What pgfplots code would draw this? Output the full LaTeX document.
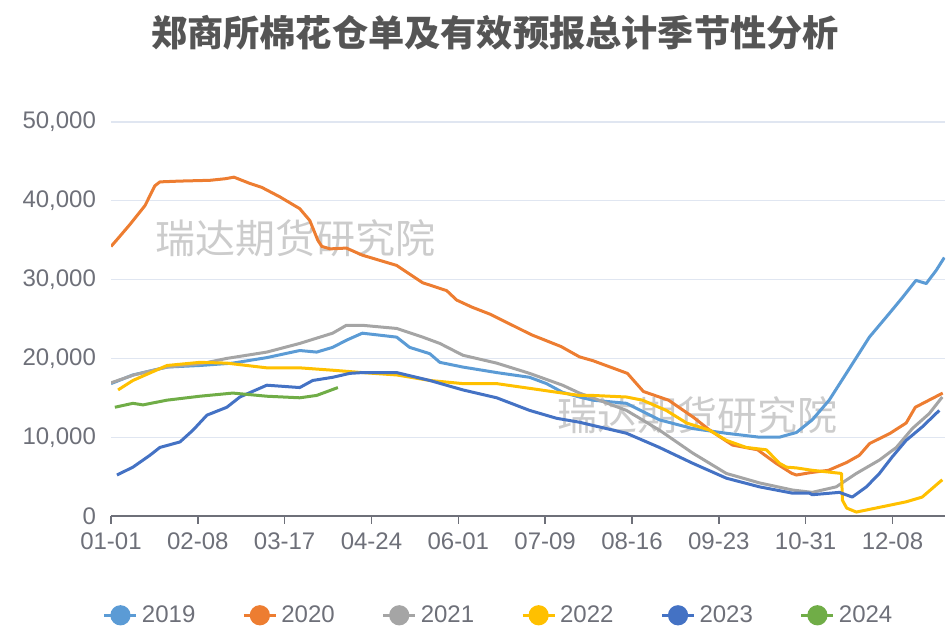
\documentclass[border=0pt]{standalone}
\usepackage{fontspec}
\setmainfont{Liberation Sans}
\newfontfamily\cjk{Noto Sans CJK SC}
\usepackage{pgfplots}
\pgfplotsset{compat=1.18}
\definecolor{c19}{HTML}{5B9BD5}
\definecolor{c20}{HTML}{ED7D31}
\definecolor{c21}{HTML}{A5A5A5}
\definecolor{c22}{HTML}{FFC000}
\definecolor{c23}{HTML}{4472C4}
\definecolor{c24}{HTML}{70AD47}
\definecolor{labgray}{HTML}{6E7079}
\definecolor{axgray}{HTML}{6E7079}
\definecolor{gridc}{HTML}{E0E6F1}
\definecolor{titleg}{HTML}{555555}
\definecolor{wm}{HTML}{CCCCCC}
\begin{document}
\begin{tikzpicture}
\path[use as bounding box] (0,0) rectangle (473.5pt,313pt);
\node[font=\cjk\bfseries\fontsize{18.1pt}{21pt}\selectfont, text=titleg] at (247.5pt,296.5pt) {郑商所棉花仓单及有效预报总计季节性分析};
\node[font=\cjk\fontsize{20pt}{24pt}\selectfont, text=wm] at (147.5pt,194pt) {瑞达期货研究院};
\node[font=\cjk\fontsize{20pt}{24pt}\selectfont, text=wm] at (348.5pt,105.5pt) {瑞达期货研究院};
\begin{axis}[
  at={(55.5pt,55pt)}, anchor=south west,
  scale only axis, width=417pt, height=197pt,
  xmin=0, xmax=365, ymin=0, ymax=50000,
  axis lines*=left,
  y axis line style={draw=none},
  x axis line style={draw=axgray, line width=0.8pt},
  xtick={0,38,76,114,152,190,228,266,304,342},
  xticklabels={01-01,02-08,03-17,04-24,06-01,07-09,08-16,09-23,10-31,12-08},
  ytick={0,10000,20000,30000,40000,50000},
  scaled y ticks=false,
  /pgf/number format/assume math mode=true,
  yticklabel style={/pgf/number format/1000 sep={,}},
  tick align=outside,
  major tick length=4pt,
  xtick style={draw=axgray, line width=0.8pt},
  ytick style={draw=none},
  ymajorgrids, grid style={draw=gridc, line width=0.6pt},
  tick label style={font=\fontsize{12pt}{14pt}\selectfont, text=labgray},
  xticklabel style={yshift=-1pt},
  legend columns=6,
  legend style={at={(rel axis cs:0.466,-0.252)}, anchor=center, draw=none, fill=none,
    font=\fontsize{12pt}{14pt}\selectfont, text=labgray,
    /tikz/every even column/.append style={column sep=21.5pt}},
  legend image code/.code={\draw[#1] (0pt,0pt) -- (16pt,0pt); \fill[#1] (8pt,0pt) circle (4.3pt);},
  every axis plot/.append style={line width=1.5pt, line join=round},
]
\addplot[c19] coordinates {
(0,16800) (9.6,17900) (24.5,18900) (38.9,19100) (53.3,19400) (68.2,20100) (82.6,21000) (90,20800) (97,21400) (103,22300) (110,23200) (125,22700) (130.7,21400) (139.5,20600) (143.9,19500) (154,18900) (168.8,18200) (183.2,17600) (190.6,16800) (197.6,15700) (205,15100) (210.8,14700) (225.6,14300) (240,12200) (254.5,11100) (269.3,10500) (283.8,10000) (292.5,10000) (300,10600) (306.9,12200) (314.3,14700) (321.8,18100) (326.2,20100) (331.9,22700) (340.6,25700) (346.3,27700) (352.3,29900) (356.8,29500) (361.2,31200) (364.7,32800)};
\addlegendentry{2019}
\addplot[c20] coordinates {
(0,34200) (3,35200) (8.3,37000) (14.9,39400) (19.2,41900) (21.4,42400) (30,42500) (43.3,42600) (50,42800) (53.8,43000) (60.8,42200) (66,41700) (73.9,40500) (82.6,39000) (87,37500) (90.5,35000) (92.3,34200) (96,33900) (103,34000) (110,33100) (125,31800) (136.4,29600) (146.9,28600) (151.3,27400) (158,26500) (166,25600) (175,24300) (184,23000) (197,21500) (205,20200) (211,19700) (226,18100) (233,15800) (244,14700) (255,12500) (262,10900) (272,9000) (283,8400) (291,6700) (298,5400) (300,5200) (306,5500) (314,5800) (322,6800) (327.5,7700) (332,9200) (341,10500) (348,11800) (352,13800) (358,14700) (364,15600)};
\addlegendentry{2020}
\addplot[c21] coordinates {
(0,16900) (10,17900) (24.5,18900) (39,19300) (50.7,20000) (68.2,20800) (82.6,21900) (97,23200) (103,24200) (110,24200) (125,23800) (136.4,22700) (143.9,21900) (154,20400) (168.8,19400) (183.2,18100) (197.6,16600) (205,15600) (210.8,15000) (225.6,13400) (240,10900) (254.5,8000) (269.3,5400) (283.8,4200) (298.2,3300) (306.9,3000) (317.4,3700) (326.2,5400) (336.3,7100) (343.7,8700) (350.7,11100) (358.1,13000) (363.8,15100)};
\addlegendentry{2021}
\addplot[c22] coordinates {
(3.1,16000) (9.6,17200) (24.5,19100) (38.9,19500) (50.7,19400) (68.2,18800) (82.6,18800) (97,18500) (110,18200) (125,17900) (139.5,17200) (154,16800) (168.8,16800) (183.2,16200) (197.6,15600) (205,15300) (210.8,15300) (225.6,15100) (232.6,14700) (243,13400) (251.9,11800) (261.9,10900) (269.3,9600) (278,8700) (286.8,8400) (292.5,6700) (295.6,6200) (300,6100) (306.9,5800) (319.7,5400) (320.1,2000) (322,1000) (326.2,500) (336.3,1100) (348,1800) (355,2400) (363.8,4600)};
\addlegendentry{2022}
\addplot[c23] coordinates {
(2.6,5200) (9.6,6200) (17,7700) (21.4,8700) (30.2,9400) (35.9,10900) (42,12800) (50.7,13800) (56.4,15100) (68.2,16600) (82.6,16300) (88.3,17200) (97,17600) (104.5,18100) (110,18200) (125,18200) (139.5,17200) (154,16000) (168.8,15000) (183.2,13400) (195,12400) (205,11900) (210.8,11500) (225.6,10500) (240,8700) (254.5,6700) (269.3,4800) (283.8,3700) (298.2,2900) (305.6,2900) (306.9,2700) (318.8,3000) (324.4,2400) (330.6,3700) (336.3,5400) (341.9,7500) (348,9600) (355,11300) (362.5,13400)};
\addlegendentry{2023}
\addplot[c24] coordinates {
(1.7,13800) (9.6,14300) (14,14100) (24.5,14700) (38.9,15200) (53.3,15600) (68.2,15200) (82.6,15000) (90,15300) (99.3,16300)};
\addlegendentry{2024}
\end{axis}
\end{tikzpicture}
\end{document}
